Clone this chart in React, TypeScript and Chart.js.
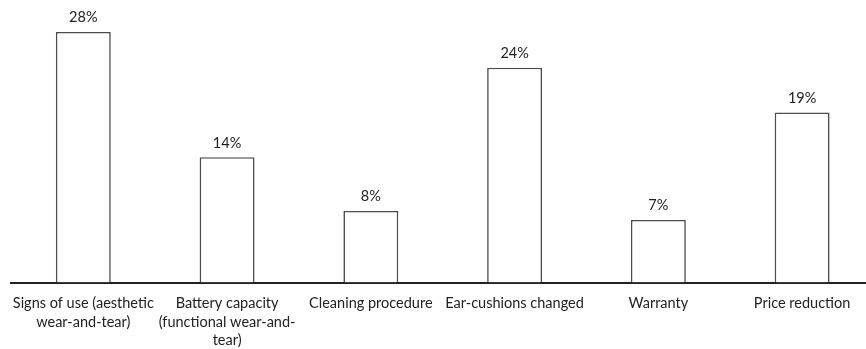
import React, { useEffect, useRef } from "react";
import { Chart, registerables } from "chart.js";

Chart.register(...registerables);

const categories: string[][] = [
  ["Signs of use (aesthetic", "wear-and-tear)"],
  ["Battery capacity", "(functional wear-and-", "tear)"],
  ["Cleaning procedure"],
  ["Ear-cushions changed"],
  ["Warranty"],
  ["Price reduction"],
];
const values: number[] = [28, 14, 8, 24, 7, 19];
const valueLabels: string[] = ["28%", "14%", "8%", "24%", "7%", "19%"];

const FONT = "Lato, 'Open Sans', sans-serif";

const valueLabelPlugin = {
  id: "valueLabels",
  afterDatasetsDraw(chart: any) {
    const ctx = chart.ctx;
    const meta = chart.getDatasetMeta(0);
    ctx.save();
    ctx.font = `14.5px ${FONT}`;
    ctx.fillStyle = "#222222";
    ctx.textAlign = "center";
    ctx.textBaseline = "bottom";
    meta.data.forEach((el: any, i: number) => {
      ctx.fillText(valueLabels[i], el.x, el.y - 7);
    });
    ctx.restore();
  },
};

export default function App() {
  const ref = useRef<HTMLCanvasElement>(null);
  useEffect(() => {
    if (!ref.current) return;
    const chart = new Chart(ref.current, {
      type: "bar",
      data: {
        labels: categories,
        datasets: [
          {
            data: values,
            backgroundColor: "#ffffff",
            borderColor: "#4d4d4d",
            borderWidth: 1.6,
            barPercentage: 0.382,
            categoryPercentage: 1,
          },
        ],
      },
      options: {
        animation: false,
        responsive: false,
        devicePixelRatio: 1,
        layout: { padding: { left: 10, right: 2, top: 14, bottom: 0 } },
        plugins: {
          legend: { display: false },
          tooltip: { enabled: false },
        },
        scales: {
          x: {
            grid: { display: false, drawTicks: false },
            border: { display: true, color: "#222222", width: 2 },
            ticks: {
              color: "#222222",
              font: { family: FONT, size: 14.5, lineHeight: 1.275 },
              padding: 12,
              maxRotation: 0,
              autoSkip: false,
            },
          },
          y: {
            display: false,
            min: 0,
            max: 30,
          },
        },
      },
      plugins: [valueLabelPlugin],
    });
    return () => chart.destroy();
  }, []);
  return (
    <div
      style={{
        position: "fixed",
        left: 0,
        top: 0,
        width: 866,
        height: 349,
        overflow: "hidden",
        background: "#ffffff",
      }}
    >
      <canvas ref={ref} width={876} height={362} style={{ display: "block" }} />
    </div>
  );
}
